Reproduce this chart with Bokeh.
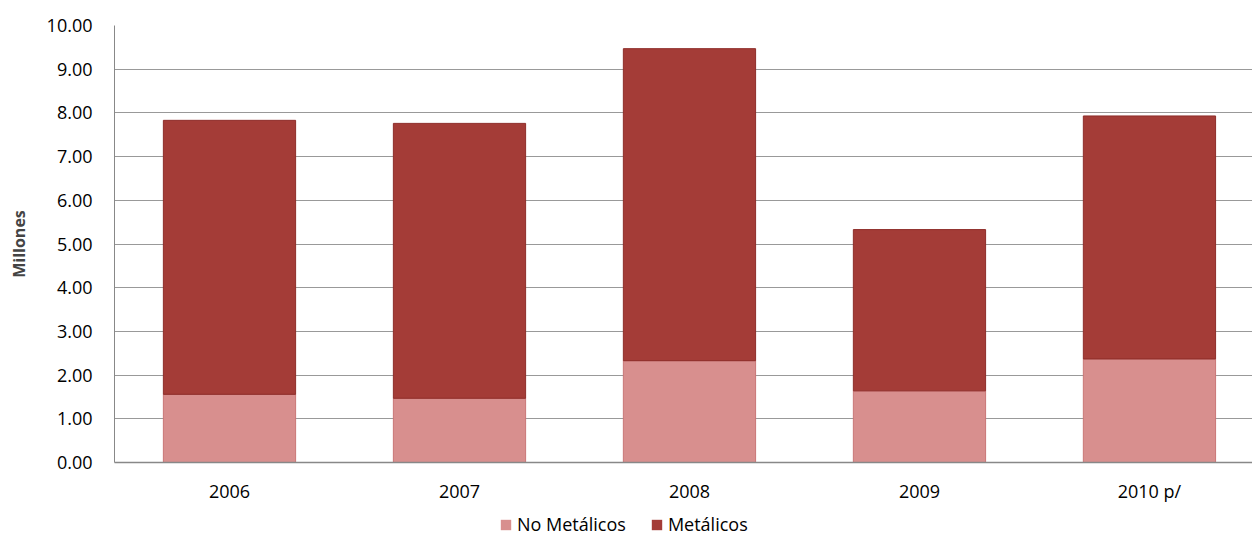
from bokeh.plotting import figure
from bokeh.layouts import column
from bokeh.models import ColumnDataSource, Legend, LegendItem, NumeralTickFormatter, FixedTicker, Range1d
from bokeh.embed import file_html
from bokeh.resources import INLINE

years = ["2006", "2007", "2008", "2009", "2010 p/"]
no_metalicos = [1.56, 1.47, 2.33, 1.64, 2.37]
metalicos = [6.27, 6.29, 7.14, 3.69, 5.56]
series_names = ["No Metálicos", "Metálicos"]

FILL_NM, LINE_NM = "#D88F8E", "#C97676"
FILL_M, LINE_M = "#A43C37", "#8E2D29"

xs = list(range(len(years)))
tops = [a + b for a, b in zip(no_metalicos, metalicos)]
src = ColumnDataSource(dict(x=xs, nm=no_metalicos, top=tops))

FONT = "Open Sans"
p = figure(frame_width=1138, frame_height=437, output_backend="svg", toolbar_location=None,
           x_range=Range1d(-0.5, 4.448), y_range=Range1d(0, 10),
           min_border_left=114, min_border_right=0, min_border_top=25, min_border_bottom=45)
p.outline_line_color = None

bw = 0.575
p.vbar(x="x", bottom=0, top="nm", width=bw, source=src,
       fill_color=FILL_NM, line_color=LINE_NM, line_width=1)
p.vbar(x="x", bottom="nm", top="top", width=bw, source=src,
       fill_color=FILL_M, line_color=LINE_M, line_width=1)

p.yaxis.ticker = FixedTicker(ticks=[float(i) for i in range(11)])
p.yaxis.formatter = NumeralTickFormatter(format="0.00")
p.yaxis.axis_label = "Millones"
p.yaxis.axis_label_text_font = FONT
p.yaxis.axis_label_text_font_style = "bold"
p.yaxis.axis_label_text_font_size = "16px"
p.yaxis.axis_label_standoff = 14
p.yaxis.major_label_text_font = FONT
p.yaxis.major_label_text_font_size = "18px"
p.yaxis.major_label_text_color = "#000000"
p.yaxis.major_tick_out = 0
p.yaxis.major_tick_in = 0
p.yaxis.minor_tick_out = 0
p.yaxis.minor_tick_in = 0
p.yaxis.axis_line_color = "#888888"
p.yaxis.major_label_standoff = 22

p.xaxis.ticker = FixedTicker(ticks=xs)
p.xaxis.major_label_overrides = {i: y for i, y in zip(xs, years)}
p.xaxis.major_label_text_font = FONT
p.xaxis.major_label_text_font_size = "18px"
p.xaxis.major_label_text_color = "#000000"
p.xaxis.major_tick_out = 0
p.xaxis.major_tick_in = 0
p.xaxis.minor_tick_out = 0
p.xaxis.minor_tick_in = 0
p.xaxis.axis_line_color = "#888888"
p.xaxis.axis_line_width = 1.5
p.xaxis.major_label_standoff = 16

p.xgrid.grid_line_color = None
p.ygrid.grid_line_color = "#999999"
p.ygrid.grid_line_width = 1

# legend strip: same series placed outside the strip's visible range, only the legend shows
q = figure(width=1252, height=35, output_backend="svg", toolbar_location=None,
           x_axis_location=None, y_axis_location=None,
           x_range=Range1d(-101, -100), y_range=Range1d(0, 1),
           min_border_left=0, min_border_right=0, min_border_top=0, min_border_bottom=0)
q.grid.visible = False
q.outline_line_color = None
l_nm = q.vbar(x="x", bottom=0, top="nm", width=bw, source=src, fill_color=FILL_NM, line_color=None)
l_m = q.vbar(x="x", bottom="nm", top="top", width=bw, source=src, fill_color=FILL_M, line_color=None)

legend = Legend(items=[LegendItem(label=series_names[0], renderers=[l_nm]),
                       LegendItem(label=series_names[1], renderers=[l_m])],
                orientation="horizontal", location=(385, 6),
                label_text_font=FONT, label_text_font_size="18px", label_text_color="#000000",
                label_height=20, glyph_width=13, glyph_height=13, spacing=24,
                border_line_color=None, background_fill_alpha=0,
                margin=0, padding=4, label_standoff=5)
q.add_layout(legend)

layout = column(p, q, spacing=0)
open("out.html", "w").write(file_html(layout, INLINE))
